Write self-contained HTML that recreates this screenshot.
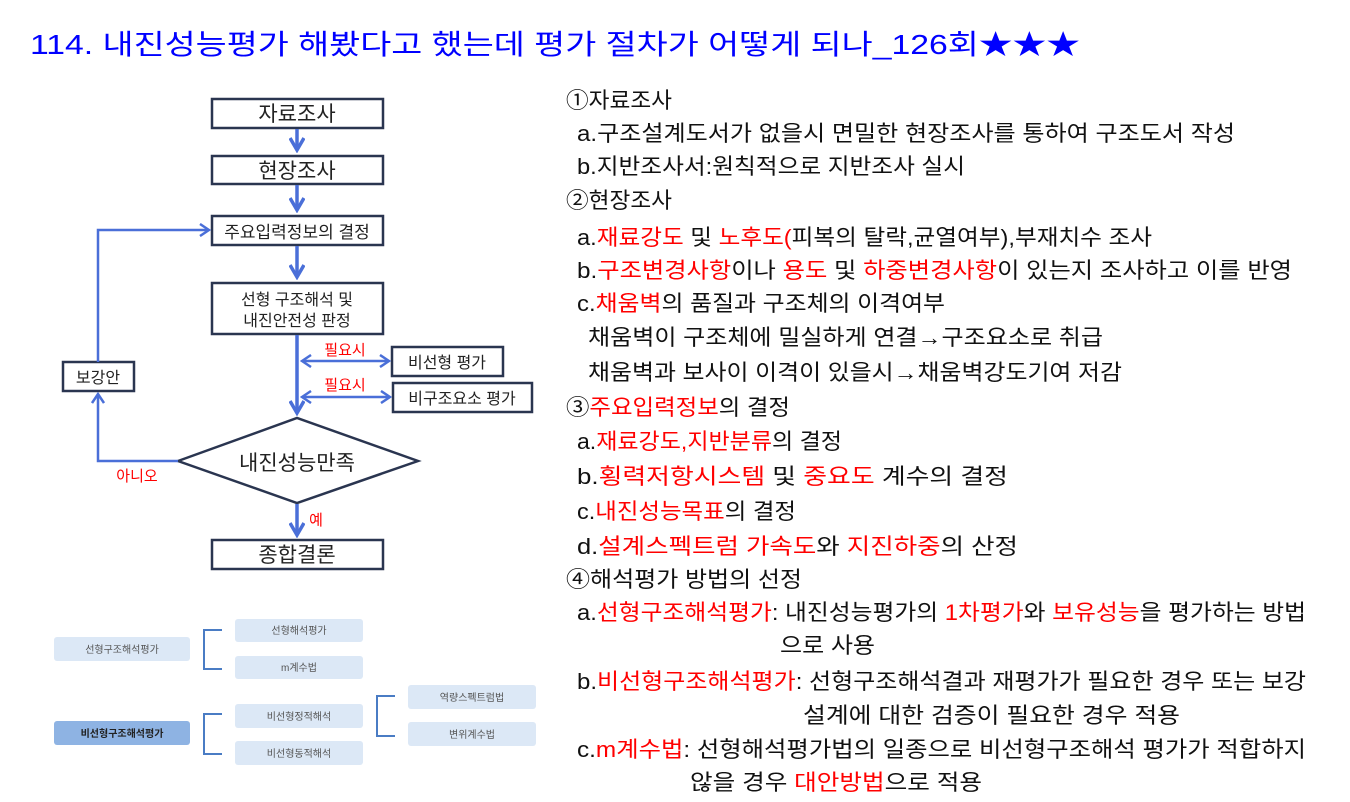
<!DOCTYPE html>
<html><head><meta charset="utf-8"><style>
html,body{margin:0;padding:0;background:#fff;}
svg{display:block;}
text{font-family:"Liberation Sans","Noto Sans CJK KR",sans-serif;}
.r{fill:#ff0000}
</style></head><body>
<svg width="1350" height="802" viewBox="0 0 1350 802" xmlns="http://www.w3.org/2000/svg">
<defs>
<marker id="ah" markerWidth="12" markerHeight="14" refX="9" refY="7" orient="auto-start-reverse" markerUnits="userSpaceOnUse">
<path d="M1,1 L10,7 L1,13" fill="none" stroke="#4a6fd8" stroke-width="2.5"/></marker>
<marker id="ahb" markerWidth="16" markerHeight="16" refX="13" refY="8" orient="auto" markerUnits="userSpaceOnUse">
<path d="M1,1 L13,8 L1,15" fill="none" stroke="#4a6fd8" stroke-width="3.5"/></marker>
</defs>
<text x="30" y="54" font-size="28" fill="#0000ff" textLength="1050" lengthAdjust="spacingAndGlyphs">114. 내진성능평가 해봤다고 했는데 평가 절차가 어떻게 되나_126회★★★</text>

<g fill="#fff" stroke="#2a3550" stroke-width="2.5">
<rect x="212" y="99" width="171" height="29"/>
<rect x="212" y="156" width="171" height="28"/>
<rect x="212" y="216" width="171" height="29"/>
<rect x="212" y="283" width="171" height="51"/>
<rect x="392" y="347" width="111" height="29"/>
<rect x="393" y="383" width="139" height="29"/>
<rect x="63" y="362" width="71" height="29"/>
<rect x="212" y="540" width="171" height="29"/>
<polygon points="178,461 297,418 418,461 297,503"/>
</g>
<g stroke="#4a6fd8" fill="none">
<line x1="297" y1="129" x2="297" y2="150" stroke-width="3.5" marker-end="url(#ahb)"/>
<line x1="297" y1="185" x2="297" y2="210" stroke-width="3.5" marker-end="url(#ahb)"/>
<line x1="297" y1="246" x2="297" y2="277" stroke-width="3.5" marker-end="url(#ahb)"/>
<line x1="297" y1="335" x2="297" y2="413" stroke-width="3.5" marker-end="url(#ahb)"/>
<line x1="297" y1="504" x2="297" y2="535" stroke-width="3.5" marker-end="url(#ahb)"/>
<line x1="303" y1="361" x2="388" y2="361" stroke-width="2.5" marker-end="url(#ah)" marker-start="url(#ah)"/>
<line x1="303" y1="397" x2="389" y2="397" stroke-width="2.5" marker-end="url(#ah)" marker-start="url(#ah)"/>
<polyline points="178,461 98,461 98,395" stroke-width="2.5" marker-end="url(#ah)"/>
<polyline points="98,362 98,230 208,230" stroke-width="2.5" marker-end="url(#ah)"/>
</g>
<g font-size="21" fill="#222" text-anchor="middle">
<text x="297" y="121">자료조사</text>
<text x="297" y="178">현장조사</text>
<text x="297" y="238" font-size="17">주요입력정보의 결정</text>
<text x="297" y="305" font-size="16">선형 구조해석 및</text>
<text x="297" y="326" font-size="16">내진안전성 판정</text>
<text x="447" y="368" font-size="16">비선형 평가</text>
<text x="462" y="404" font-size="16">비구조요소 평가</text>
<text x="98" y="383" font-size="16">보강안</text>
<text x="297" y="470" font-size="21">내진성능만족</text>
<text x="297" y="562">종합결론</text>
</g>
<g font-size="15" class="r" text-anchor="middle">
<text x="345" y="355">필요시</text>
<text x="345" y="390">필요시</text>
<text x="137" y="481">아니오</text>
<text x="316" y="525">예</text>
</g>

<g>
<rect x="54" y="637" width="136" height="24" rx="3" fill="#dce8f6"/>
<rect x="54" y="721" width="136" height="24" rx="3" fill="#8eb3e3"/>
<rect x="235" y="619" width="128" height="23" rx="3" fill="#dce8f6"/>
<rect x="235" y="656" width="128" height="23" rx="3" fill="#dce8f6"/>
<rect x="235" y="704" width="128" height="24" rx="3" fill="#dce8f6"/>
<rect x="235" y="741" width="128" height="24" rx="3" fill="#dce8f6"/>
<rect x="408" y="685" width="128" height="24" rx="3" fill="#dce8f6"/>
<rect x="408" y="722" width="128" height="24" rx="3" fill="#dce8f6"/>
<g fill="none" stroke="#4a7cc4" stroke-width="2">
<polyline points="222,630 204,630 204,669 222,669"/>
<polyline points="222,714 204,714 204,754 222,754"/>
<polyline points="395,696 377,696 377,736 395,736"/>
</g>
<g font-size="10" fill="#555" text-anchor="middle">
<text x="122" y="653">선형구조해석평가</text>
<text x="122" y="737" fill="#222" font-weight="bold">비선형구조해석평가</text>
<text x="299" y="634">선형해석평가</text>
<text x="299" y="671">m계수법</text>
<text x="299" y="720">비선형정적해석</text>
<text x="299" y="757">비선형동적해석</text>
<text x="472" y="701">역량스펙트럼법</text>
<text x="472" y="738">변위계수법</text>
</g>
</g>

<g font-size="22" fill="#111">
<text x="566" y="108" textLength="106" lengthAdjust="spacingAndGlyphs">①자료조사</text>
<text x="577" y="141" textLength="658" lengthAdjust="spacingAndGlyphs">a.구조설계도서가 없을시 면밀한 현장조사를 통하여 구조도서 작성</text>
<text x="577" y="174" textLength="388" lengthAdjust="spacingAndGlyphs">b.지반조사서:원칙적으로 지반조사 실시</text>
<text x="566" y="208" textLength="106" lengthAdjust="spacingAndGlyphs">②현장조사</text>
<text x="577" y="245" textLength="575" lengthAdjust="spacingAndGlyphs">a.<tspan class="r">재료강도</tspan> 및 <tspan class="r">노후도(</tspan>피복의 탈락,균열여부),부재치수 조사</text>
<text x="577" y="278" textLength="715" lengthAdjust="spacingAndGlyphs">b.<tspan class="r">구조변경사항</tspan>이나 <tspan class="r">용도</tspan> 및 <tspan class="r">하중변경사항</tspan>이 있는지 조사하고 이를 반영</text>
<text x="577" y="311" textLength="368" lengthAdjust="spacingAndGlyphs">c.<tspan class="r">채움벽</tspan>의 품질과 구조체의 이격여부</text>
<text x="588" y="345" textLength="515" lengthAdjust="spacingAndGlyphs">채움벽이 구조체에 밀실하게 연결→구조요소로 취급</text>
<text x="588" y="380" textLength="534" lengthAdjust="spacingAndGlyphs">채움벽과 보사이 이격이 있을시→채움벽강도기여 저감</text>
<text x="566" y="415" textLength="224" lengthAdjust="spacingAndGlyphs">③<tspan class="r">주요입력정보</tspan>의 결정</text>
<text x="577" y="449" textLength="265" lengthAdjust="spacingAndGlyphs">a.<tspan class="r">재료강도,지반분류</tspan>의 결정</text>
<text x="577" y="484" textLength="431" lengthAdjust="spacingAndGlyphs">b.<tspan class="r">횡력저항시스템</tspan> 및 <tspan class="r">중요도</tspan> 계수의 결정</text>
<text x="577" y="519" textLength="219" lengthAdjust="spacingAndGlyphs">c.<tspan class="r">내진성능목표</tspan>의 결정</text>
<text x="577" y="554" textLength="441" lengthAdjust="spacingAndGlyphs">d.<tspan class="r">설계스펙트럼 가속도</tspan>와 <tspan class="r">지진하중</tspan>의 산정</text>
<text x="566" y="587" textLength="236" lengthAdjust="spacingAndGlyphs">④해석평가 방법의 선정</text>
<text x="577" y="620" textLength="729" lengthAdjust="spacingAndGlyphs">a.<tspan class="r">선형구조해석평가</tspan>: 내진성능평가의 <tspan class="r">1차평가</tspan>와 <tspan class="r">보유성능</tspan>을 평가하는 방법</text>
<text x="780" y="653" textLength="95" lengthAdjust="spacingAndGlyphs">으로 사용</text>
<text x="577" y="689" textLength="729" lengthAdjust="spacingAndGlyphs">b.<tspan class="r">비선형구조해석평가</tspan>: 선형구조해석결과 재평가가 필요한 경우 또는 보강</text>
<text x="803" y="723" textLength="377" lengthAdjust="spacingAndGlyphs">설계에 대한 검증이 필요한 경우 적용</text>
<text x="577" y="757" textLength="729" lengthAdjust="spacingAndGlyphs">c.<tspan class="r">m계수법</tspan>: 선형해석평가법의 일종으로 비선형구조해석 평가가 적합하지</text>
<text x="690" y="790" textLength="292" lengthAdjust="spacingAndGlyphs">않을 경우 <tspan class="r">대안방법</tspan>으로 적용</text>
</g>
</svg>
</body></html>
